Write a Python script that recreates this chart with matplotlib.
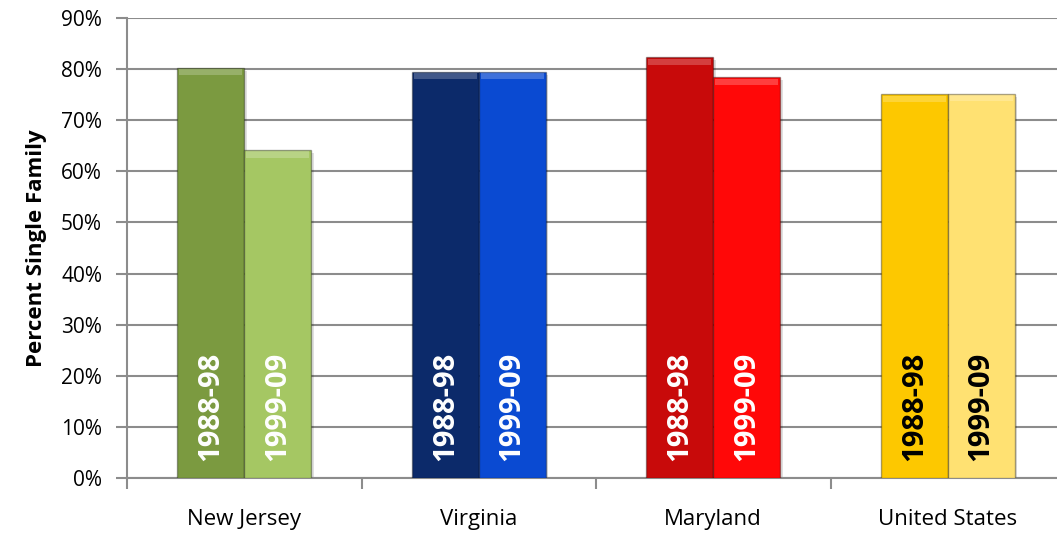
import matplotlib.pyplot as plt
import numpy as np

regions = ['New Jersey', 'Virginia', 'Maryland', 'United States']
pct_1988 = [80.3, 79.5, 82.3, 75.1]
pct_1999 = [64.2, 79.5, 78.4, 75.2]
period_labels = ['1988-98', '1999-09']
dark_colors = ['#7b9a40', '#0c2a6a', '#c80a0a', '#fdc800']
light_colors = ['#a5c763', '#0a4ad2', '#ff0808', '#ffe172']
text_colors = ['white', 'white', 'white', 'black']

plt.rcParams['font.family'] = ['Open Sans', 'DejaVu Sans']

fig = plt.figure(figsize=(10.57, 5.35), dpi=100)
# plot area spills past the right edge like in the original
ax = fig.add_axes([127 / 1057, (535 - 478) / 535, 938 / 1057, 460 / 535])

x = np.arange(len(regions))
w = 0.285
grey = '#8c8c8c'

for i in range(len(regions)):
    for j, (vals, cols) in enumerate([(pct_1988, dark_colors), (pct_1999, light_colors)]):
        xc = x[i] - w / 2 + j * w
        # soft shadow
        ax.bar(xc + 0.012, vals[i], w, bottom=-0.6, color='#000000', alpha=0.12,
               zorder=2, linewidth=0)
        ax.bar(xc, vals[i], w, color=cols[i], edgecolor='#00000055',
               linewidth=1.0, zorder=3)
        # light bevel along the top
        ax.bar(xc, 1.2, w * 0.94, bottom=vals[i] - 1.5, color='white', alpha=0.22,
               linewidth=0, zorder=4)
        ax.text(xc, 3.4, period_labels[j], rotation=90, ha='center', va='bottom',
                fontsize=21, fontweight='bold', color=text_colors[i], zorder=5)

ax.set_xlim(-0.5, 3.5)
ax.set_ylim(0, 90)
ax.set_yticks(np.arange(0, 91, 10))
ax.set_yticklabels([f'{v}%' for v in range(0, 91, 10)], fontsize=15)
ax.yaxis.grid(True, color=grey, linewidth=1.5, zorder=0)
ax.set_axisbelow(True)

ax.set_xticks(x)
ax.set_xticklabels(regions, fontsize=16)
ax.set_xticks(np.arange(-0.5, 4, 1), minor=True)
ax.tick_params(axis='x', which='major', length=0, pad=22)
ax.tick_params(axis='x', which='minor', length=8, color=grey, width=1.5)
ax.tick_params(axis='y', length=8, color=grey, width=1.5, pad=10)

for s in ['top', 'right']:
    ax.spines[s].set_visible(False)
for s in ['left', 'bottom']:
    ax.spines[s].set_color(grey)
    ax.spines[s].set_linewidth(1.5)

ax.set_ylabel('Percent Single Family', fontsize=16, fontweight='bold', labelpad=10)

fig.savefig('out.png', dpi=100)
